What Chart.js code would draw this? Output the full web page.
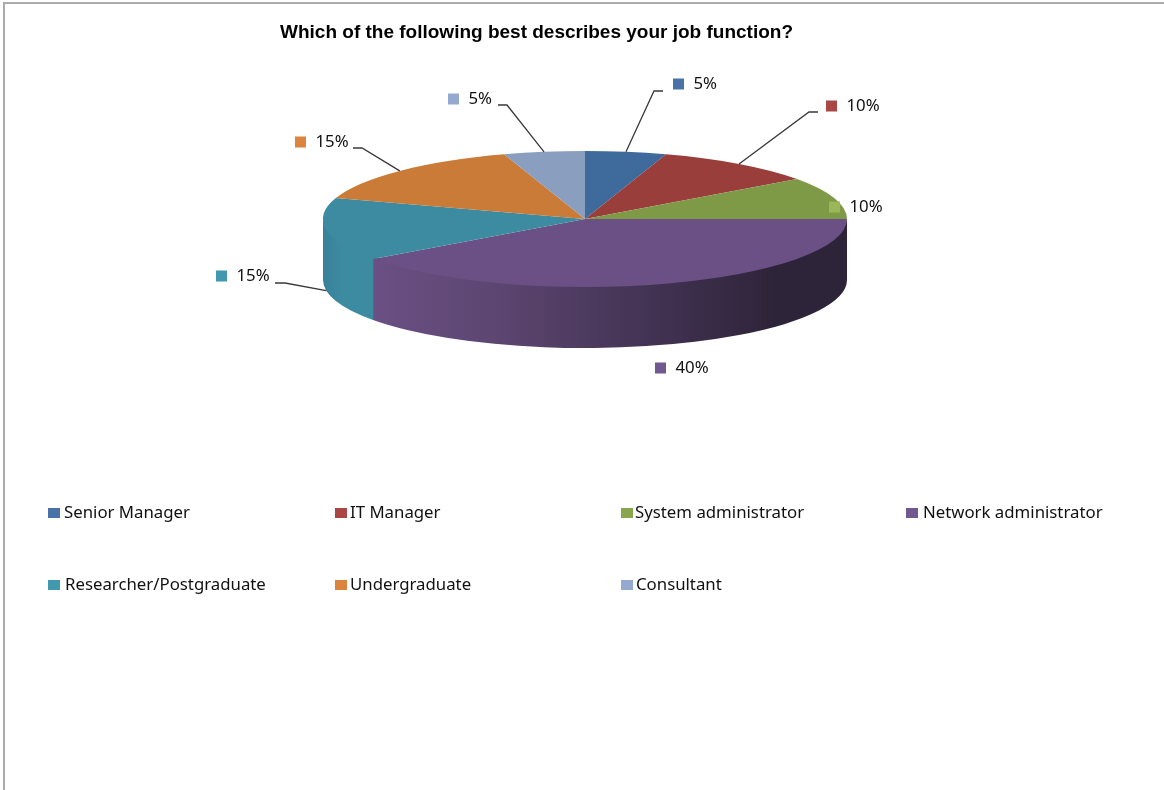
<!DOCTYPE html>
<html>
<head>
<meta charset="utf-8">
<title>Job function</title>
<script src="https://cdn.jsdelivr.net/npm/chart.js@4"></script>
<style>
    html, body { margin: 0; padding: 0; background: #fff; }
    canvas { display: block; filter: blur(0.4px); }
</style>
</head>
<body>
<canvas id="jobChart" width="1164" height="790"></canvas>
<script>
const chartTitle = "Which of the following best describes your job function?";
const categories = [
    "Senior Manager", "IT Manager", "System administrator", "Network administrator",
    "Researcher/Postgraduate", "Undergraduate", "Consultant"
];
const percentages = [5, 10, 10, 40, 15, 15, 5];

// top faces are a bit darker than the legend keys, as in the Excel original
const sliceColors = ["#3E6A9C", "#9A3E3C", "#7E9A46", "#6A5084", "#3D8BA1", "#C97B37", "#8A9EC0"];
const keyColors = ["#4A72A8", "#AA4643", "#89A54E", "#71588F", "#4198AF", "#DB843D", "#93A9CF"];

// where the pie sits once it is tilted
const pieCenterX = 585;
const pieCenterY = 219;
const pieRadiusX = 262;
const pieRadiusY = 68;
const pieDepth = 61;

const labelFont = '16.8px "Noto Sans"';
const keySize = 10;

// [elbow x, elbow y, elbow end x] per slice, null = no leader
const calloutKeyX = [673, 826, 829, 655, 216, 295, 448];
const calloutTextY = [84, 106, 207, 368, 276, 142, 99];
const calloutElbow = [
    [654, 91, 663], [809, 112, 818], null, null,
    [285, 283, 275], [362, 148, 353], [507, 105, 498]
];
const legendX = [48, 335, 621, 906, 48, 335, 621];
const legendTextX = [64, 350, 635, 923, 65, 350, 636];
const legendY = [513, 513, 513, 513, 585, 585, 585];

function wallFill(ctx, i) {
    if (i === 3) {
        const g = ctx.createLinearGradient(373, 0, 847, 0);
        g.addColorStop(0, "#6A5084");
        g.addColorStop(0.27, "#5C4570");
        g.addColorStop(0.65, "#3D2F4D");
        g.addColorStop(0.85, "#2E2439");
        g.addColorStop(1, "#2E2439");
        return g;
    }
    if (i === 4) {
        const g = ctx.createLinearGradient(323, 0, 373, 0);
        g.addColorStop(0, "#38819A");
        g.addColorStop(0.4, "#3D8BA1");
        g.addColorStop(1, "#3D8BA1");
        return g;
    }
    return sliceColors[i];
}

const tiltedPie = {
    id: "tiltedPie",
    beforeDatasetsDraw(chart) {
        const ctx = chart.ctx;
        const arcs = chart.getDatasetMeta(0).data;

        // side wall, only the part of each slice that faces the viewer
        // top edge starts a little high so no white seam shows under the top face
        arcs.forEach((arc, i) => {
            const start = Math.max(arc.startAngle, 0);
            const end = Math.min(arc.endAngle, Math.PI);
            if (end <= start) return;
            ctx.beginPath();
            ctx.ellipse(pieCenterX, pieCenterY - 2, pieRadiusX, pieRadiusY, 0, start, end);
            ctx.ellipse(pieCenterX, pieCenterY + pieDepth, pieRadiusX, pieRadiusY, 0, end, start, true);
            ctx.closePath();
            ctx.fillStyle = wallFill(ctx, i);
            ctx.fill();
        });

        // squash the library's own arcs into the top face
        const first = arcs[0];
        ctx.save();
        ctx.translate(pieCenterX, pieCenterY);
        ctx.scale(pieRadiusX / first.outerRadius, pieRadiusY / first.outerRadius);
        ctx.translate(-first.x, -first.y);
    },
    afterDatasetsDraw(chart) {
        const ctx = chart.ctx;
        const arcs = chart.getDatasetMeta(0).data;
        ctx.restore();

        // chart frame, left and top only
        ctx.fillStyle = "#ABABAB";
        ctx.fillRect(3, 2, 1161, 2);
        ctx.fillRect(3, 2, 2, 788);

        ctx.font = 'bold 19px "Liberation Sans"';
        ctx.fillStyle = "#000";
        ctx.textAlign = "center";
        ctx.textBaseline = "middle";
        ctx.fillText(chartTitle, 536.5, 32.5);

        ctx.font = labelFont;
        ctx.textAlign = "left";

        // callouts
        percentages.forEach((value, i) => {
            const elbow = calloutElbow[i];
            if (elbow) {
                const mid = (arcs[i].startAngle + arcs[i].endAngle) / 2;
                const tipX = pieCenterX + pieRadiusX * Math.cos(mid);
                let tipY = pieCenterY + pieRadiusY * Math.sin(mid);
                if (i === 4) tipY += pieDepth; // the teal leader lands on the wall
                ctx.beginPath();
                ctx.moveTo(elbow[2], elbow[1]);
                ctx.lineTo(elbow[0], elbow[1]);
                ctx.lineTo(tipX, tipY);
                ctx.strokeStyle = "#3A3A3A";
                ctx.lineWidth = 1.3;
                ctx.stroke();
            }
            ctx.fillStyle = i === 2 ? "#9AB75A" : keyColors[i];
            ctx.fillRect(calloutKeyX[i], calloutTextY[i] - 5.5, keySize + 1, keySize + 1);
            ctx.fillStyle = "#111";
            ctx.fillText(value + "%", calloutKeyX[i] + 20.5, calloutTextY[i] + 0.5);
        });

        // legend
        categories.forEach((name, i) => {
            ctx.fillStyle = keyColors[i];
            ctx.fillRect(legendX[i], legendY[i] - 5, keySize + 2, keySize);
            ctx.fillStyle = "#111";
            ctx.fillText(name, legendTextX[i], legendY[i]);
        });
    }
};

new Chart(document.getElementById("jobChart").getContext("2d"), {
    type: "pie",
    data: {
        labels: categories,
        datasets: [{
            data: percentages,
            backgroundColor: sliceColors,
            borderWidth: 0,
            clip: false
        }]
    },
    options: {
        responsive: false,
        devicePixelRatio: 1,
        animation: false,
        plugins: {
            legend: { display: false },
            title: { display: false },
            tooltip: { enabled: false }
        }
    },
    plugins: [tiltedPie]
});
</script>
</body>
</html>
